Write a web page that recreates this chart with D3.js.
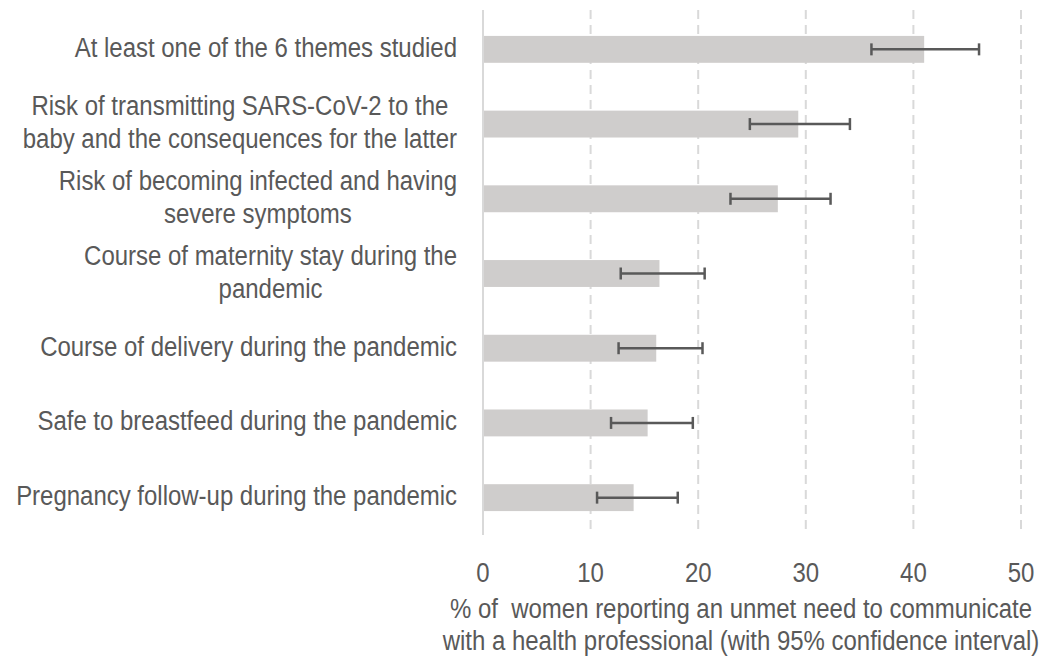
<!DOCTYPE html>
<html>
<head>
<meta charset="utf-8">
<script src="https://cdn.jsdelivr.net/npm/d3@7"></script>
<style>
  body { margin: 0; background: #fff; }
  text { font-family: "Liberation Sans", Arial, sans-serif; fill: #595959; }
</style>
</head>
<body>
<script>
  // data
  var themes = [
    ["At least one of the 6 themes studied"],
    ["Risk of transmitting SARS-CoV-2 to the", "baby and the consequences for the latter"],
    ["Risk of becoming infected and having", "severe symptoms"],
    ["Course of maternity stay during the", "pandemic"],
    ["Course of delivery during the pandemic"],
    ["Safe to breastfeed during the pandemic"],
    ["Pregnancy follow-up during the pandemic"]
  ];
  var percent = [41.0, 29.3, 27.4, 16.4, 16.1, 15.3, 14.0];
  var ciLow   = [36.1, 24.8, 23.0, 12.8, 12.6, 11.9, 10.6];
  var ciHigh  = [46.1, 34.1, 32.3, 20.6, 20.4, 19.5, 18.1];
  var xTicks  = [0, 10, 20, 30, 40, 50];
  var xTitle  = ["% of  women reporting an unmet need to communicate",
                 "with a health professional (with 95% confidence interval)"];

  var width = 1060, height = 657;
  var fs = 27, sx = 0.888;   // text looks narrow in the original
  var svg = d3.select("body").append("svg")
      .attr("width", width)
      .attr("height", height);

  var x = d3.scaleLinear().domain([0, 50]).range([483, 1021]);
  var y = d3.scaleBand()
      .domain(d3.range(themes.length))
      .range([12, 535])
      .paddingInner(0.64)
      .paddingOuter(0.32);

  // helper: narrow text placed at (px, py)
  function narrowText(px, py, str, anchor) {
    var g = svg.append("g")
      .attr("transform", "translate(" + px + "," + py + ") scale(" + sx + ",1)");
    return g.append("text")
      .attr("font-size", fs)
      .attr("text-anchor", anchor || "middle")
      .style("white-space", "pre")
      .text(str);
  }

  // dashed gridlines
  svg.selectAll("line.grid")
    .data(xTicks.slice(1))
    .enter().append("line")
      .attr("class", "grid")
      .attr("x1", function (d) { return x(d); })
      .attr("x2", function (d) { return x(d); })
      .attr("y1", 10).attr("y2", 535)
      .attr("stroke", "#d9d9d9")
      .attr("stroke-width", 2)
      .attr("stroke-dasharray", "9,6");

  // bars
  svg.selectAll("rect.bar")
    .data(percent)
    .enter().append("rect")
      .attr("class", "bar")
      .attr("x", x(0))
      .attr("y", function (d, i) { return y(i); })
      .attr("width", function (d) { return x(d) - x(0); })
      .attr("height", y.bandwidth())
      .attr("fill", "#cfcdcc");

  // axis line
  svg.append("line")
    .attr("x1", x(0)).attr("x2", x(0))
    .attr("y1", 10).attr("y2", 535)
    .attr("stroke", "#d9d9d9")
    .attr("stroke-width", 2);

  // error bars
  var err = svg.selectAll("g.err")
    .data(percent)
    .enter().append("g")
      .attr("class", "err")
      .attr("transform", function (d, i) {
        return "translate(0," + (y(i) + y.bandwidth() / 2) + ")";
      });
  err.append("line")
    .attr("x1", function (d, i) { return x(ciLow[i]); })
    .attr("x2", function (d, i) { return x(ciHigh[i]); })
    .attr("stroke", "#595959").attr("stroke-width", 2.5);
  err.append("line")
    .attr("x1", function (d, i) { return x(ciLow[i]); })
    .attr("x2", function (d, i) { return x(ciLow[i]); })
    .attr("y1", -6).attr("y2", 6)
    .attr("stroke", "#595959").attr("stroke-width", 2.5);
  err.append("line")
    .attr("x1", function (d, i) { return x(ciHigh[i]); })
    .attr("x2", function (d, i) { return x(ciHigh[i]); })
    .attr("y1", -6).attr("y2", 6)
    .attr("stroke", "#595959").attr("stroke-width", 2.5);

  // category labels: block right-aligned, lines centred inside the block
  var labelRight = 457, lineH = 33;
  themes.forEach(function (lines, i) {
    var cy = y(i) + y.bandwidth() / 2;
    var w = 0, items = [];
    lines.forEach(function (l, j) {
      var t = narrowText(0, cy + 7.5 + (j - (lines.length - 1) / 2) * lineH, l);
      w = Math.max(w, t.node().getComputedTextLength() * sx);
      items.push(t);
    });
    items.forEach(function (t, j) {
      var py = cy + 7.5 + (j - (lines.length - 1) / 2) * lineH;
      d3.select(t.node().parentNode)
        .attr("transform", "translate(" + (labelRight - w / 2) + "," + py + ") scale(" + sx + ",1)");
    });
  });

  // x tick labels
  xTicks.forEach(function (d) {
    narrowText(x(d), 582, String(d));
  });

  // axis title
  xTitle.forEach(function (d, i) {
    narrowText(741, 618 + i * 32, d);
  });
</script>
</body>
</html>
